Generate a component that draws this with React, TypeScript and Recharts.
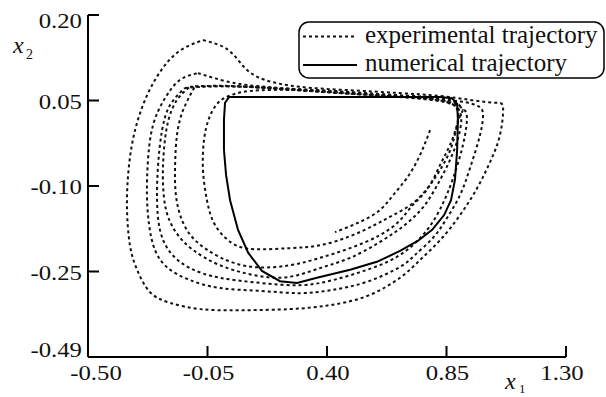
import React from 'react';
import { ComposedChart, Line, XAxis, YAxis } from 'recharts';

// axis ticks (bottom y label in the original reads -0.49)
const xTicks = [-0.5, -0.05, 0.4, 0.85, 1.3];
const xTickLabels = ['-0.50', '-0.05', '0.40', '0.85', '1.30'];
const yTicks = [-0.4, -0.25, -0.1, 0.05, 0.2];
const yTickLabels = ['-0.49', '-0.25', '-0.10', '0.05', '0.20'];

// numerical trajectory (solid), [x1, x2]
const numerical = [
  [0.012, -0.037], [0.012, 0.016], [0.016, 0.046], [0.031, 0.056], [0.148, 0.056], [0.374, 0.056],
  [0.600, 0.056], [0.826, 0.056], [0.871, 0.054], [0.890, 0.044], [0.893, 0.016], [0.890, -0.037],
  [0.882, -0.089], [0.867, -0.125], [0.841, -0.151], [0.796, -0.177], [0.743, -0.196], [0.675, -0.214],
  [0.588, -0.233], [0.487, -0.247], [0.362, -0.261], [0.287, -0.270], [0.223, -0.267], [0.155, -0.249],
  [0.103, -0.217], [0.065, -0.177], [0.035, -0.125], [0.020, -0.081], [0.012, -0.037],
];

// experimental trajectory, one array per loop
const expStart = [
  [0.788, -0.002], [0.750, -0.046], [0.701, -0.086], [0.649, -0.116], [0.600, -0.142], [0.524, -0.163], [0.430, -0.181],
];
const expLoop1 = [
  [-0.067, 0.156], [0.027, 0.139], [0.091, 0.107], [0.167, 0.086], [0.298, 0.074], [0.487, 0.068], [0.675, 0.063],
  [0.826, 0.058], [0.939, 0.051], [1.033, 0.046], [1.063, 0.037], [1.051, -0.011], [1.014, -0.058], [0.965, -0.104],
  [0.901, -0.151], [0.826, -0.195], [0.750, -0.230], [0.675, -0.261], [0.551, -0.293], [0.411, -0.309], [0.261, -0.316],
  [0.072, -0.318], [-0.078, -0.316], [-0.191, -0.305], [-0.267, -0.286], [-0.315, -0.247], [-0.342, -0.204],
  [-0.353, -0.142], [-0.349, -0.081], [-0.331, -0.019], [-0.293, 0.042], [-0.236, 0.095], [-0.161, 0.135], [-0.067, 0.156],
];
const expLoop2 = [
  [-0.086, 0.098], [-0.022, 0.089], [0.072, 0.079], [0.223, 0.072], [0.411, 0.067], [0.600, 0.061], [0.788, 0.054],
  [0.920, 0.047], [0.969, 0.040], [0.987, 0.028], [0.976, -0.011], [0.939, -0.068], [0.901, -0.116], [0.852, -0.156],
  [0.799, -0.191], [0.731, -0.221], [0.675, -0.242], [0.551, -0.268], [0.423, -0.282], [0.298, -0.288], [0.148, -0.284],
  [-0.003, -0.279], [-0.116, -0.265], [-0.199, -0.244], [-0.248, -0.212], [-0.270, -0.168], [-0.278, -0.116],
  [-0.274, -0.054], [-0.255, 0.007], [-0.210, 0.054], [-0.154, 0.086], [-0.086, 0.098],
];
const expLoop3 = [
  [-0.135, 0.072], [-0.003, 0.075], [0.185, 0.072], [0.411, 0.065], [0.637, 0.058], [0.826, 0.051], [0.908, 0.037],
  [0.927, 0.019], [0.912, -0.028], [0.875, -0.086], [0.837, -0.130], [0.777, -0.177], [0.675, -0.221], [0.551, -0.247],
  [0.423, -0.265], [0.298, -0.274], [0.148, -0.270], [-0.003, -0.261], [-0.116, -0.244], [-0.191, -0.216],
  [-0.229, -0.177], [-0.240, -0.125], [-0.236, -0.063], [-0.221, -0.002], [-0.191, 0.042], [-0.135, 0.072],
];
const expLoop4 = [
  [-0.116, 0.074], [0.035, 0.075], [0.223, 0.070], [0.449, 0.063], [0.675, 0.056], [0.844, 0.047], [0.901, 0.030],
  [0.901, -0.002], [0.871, -0.046], [0.826, -0.089], [0.769, -0.133], [0.694, -0.168], [0.600, -0.198], [0.487, -0.226],
  [0.374, -0.244], [0.249, -0.260], [0.121, -0.256], [-0.003, -0.239], [-0.105, -0.212], [-0.169, -0.181],
  [-0.206, -0.142], [-0.218, -0.089], [-0.214, -0.037], [-0.199, 0.012], [-0.165, 0.051], [-0.116, 0.074],
];
const expLoop5 = [
  [-0.097, 0.075], [0.072, 0.075], [0.298, 0.068], [0.524, 0.061], [0.750, 0.054], [0.871, 0.044], [0.893, 0.016],
  [0.863, -0.028], [0.826, -0.063], [0.780, -0.104], [0.724, -0.133], [0.675, -0.160], [0.600, -0.186], [0.487, -0.209],
  [0.374, -0.226], [0.261, -0.239], [0.121, -0.242], [-0.003, -0.225], [-0.097, -0.195], [-0.146, -0.160],
  [-0.169, -0.116], [-0.172, -0.063], [-0.165, -0.011], [-0.142, 0.033], [-0.097, 0.075],
];
const expLoop6 = [
  [0.912, 0.033], [0.893, 0.012], [0.871, -0.028], [0.837, -0.063], [0.788, -0.098], [0.724, -0.130], [0.649, -0.151],
  [0.581, -0.168], [0.487, -0.188], [0.374, -0.204], [0.261, -0.209], [0.129, -0.211], [0.042, -0.200], [-0.022, -0.168],
  [-0.052, -0.125], [-0.067, -0.072], [-0.063, -0.019], [-0.044, 0.019], [-0.010, 0.046], [0.042, 0.060], [0.148, 0.068],
  [0.374, 0.067], [0.600, 0.061], [0.788, 0.056], [0.882, 0.047], [0.912, 0.033],
];

const experimental = [expStart, expLoop1, expLoop2, expLoop3, expLoop4, expLoop5, expLoop6];

const toPoints = (arr: number[][]) => arr.map(([x, y]) => ({ x, y }));

const FONT = '"Liberation Serif", "Times New Roman", serif';

const XTick = (props: any) => {
  const { x, y, payload } = props;
  const i = xTicks.indexOf(payload.value);
  const shift = i === 0 ? 8 : i === xTicks.length - 1 ? -4 : 1;
  return (
    <text transform={`translate(${x + shift},${y + 23}) scale(1.18,1)`} textAnchor="middle"
      fontFamily={FONT} fontSize={21} fill="#111">
      {xTickLabels[i]}
    </text>
  );
};

const YTick = (props: any) => {
  const { x, y, payload } = props;
  const i = yTicks.indexOf(payload.value);
  const shift = i === 0 ? -7 : i === yTicks.length - 1 ? 6 : 1;
  return (
    <text transform={`translate(${x},${y + 7 + shift}) scale(1.18,1)`} textAnchor="end"
      fontFamily={FONT} fontSize={21} fill="#111">
      {yTickLabels[i]}
    </text>
  );
};

export default function App() {
  const axisStroke = { stroke: '#000', strokeWidth: 2 };
  return (
    <div style={{ position: 'relative', width: 606, height: 397, background: '#fff' }}>
      <style>{'body{margin:0}'}</style>
      <ComposedChart width={606} height={397} margin={{ top: 15, right: 40, bottom: 0, left: 0 }}>
        <XAxis dataKey="x" type="number" domain={[-0.5, 1.3]} ticks={xTicks} height={40}
          axisLine={axisStroke} tickLine={axisStroke} tickSize={-11} tickMargin={11}
          tick={<XTick />} interval={0} allowDataOverflow />
        <XAxis xAxisId="top" orientation="top" type="number" domain={[-0.5, 1.3]} height={0}
          axisLine={axisStroke} tick={false} tickLine={false} />
        <YAxis type="number" domain={[-0.4, 0.2]} ticks={yTicks} width={88}
          axisLine={axisStroke} tickLine={axisStroke} tickSize={-11} tickMargin={17}
          tick={<YTick />} interval={0} allowDataOverflow />
        <YAxis yAxisId="right" orientation="right" type="number" domain={[-0.4, 0.2]} width={0}
          axisLine={axisStroke} tick={false} tickLine={false} />
        {experimental.map((loop, i) => (
          <Line key={`exp-${i}`} data={toPoints(loop)} dataKey="y" type="natural" stroke="#111"
            strokeWidth={2} strokeDasharray="3 3" dot={false} activeDot={false} isAnimationActive={false} />
        ))}
        <Line data={toPoints(numerical)} dataKey="y" type="linear" stroke="#000" strokeWidth={2}
          dot={false} activeDot={false} isAnimationActive={false} />
      </ComposedChart>

      <svg width={606} height={397} style={{ position: 'absolute', left: 0, top: 0, pointerEvents: 'none' }}>
        {/* legend */}
        <rect x={299} y={22} width={305} height={56} rx={10} fill="#fff" stroke="#000" strokeWidth={1.5} />
        <line x1={303} x2={357} y1={36.5} y2={36.5} stroke="#111" strokeWidth={1.8} strokeDasharray="3 3" />
        <text x={365} y={43} fontFamily={FONT} fontSize={25} fill="#111">experimental trajectory</text>
        <line x1={303} x2={357} y1={65} y2={65} stroke="#000" strokeWidth={2} />
        <text x={365} y={71} fontFamily={FONT} fontSize={25} fill="#111">numerical trajectory</text>
        {/* axis names */}
        <text x={13} y={53} fontFamily={FONT} fontSize={24} fontStyle="italic" fill="#111">x</text>
        <text x={26} y={59} fontFamily={FONT} fontSize={14} fill="#111">2</text>
        <text x={505} y={389} fontFamily={FONT} fontSize={24} fontStyle="italic" fill="#111">x</text>
        <text x={519} y={393} fontFamily={FONT} fontSize={13} fill="#111">1</text>
      </svg>
    </div>
  );
}
